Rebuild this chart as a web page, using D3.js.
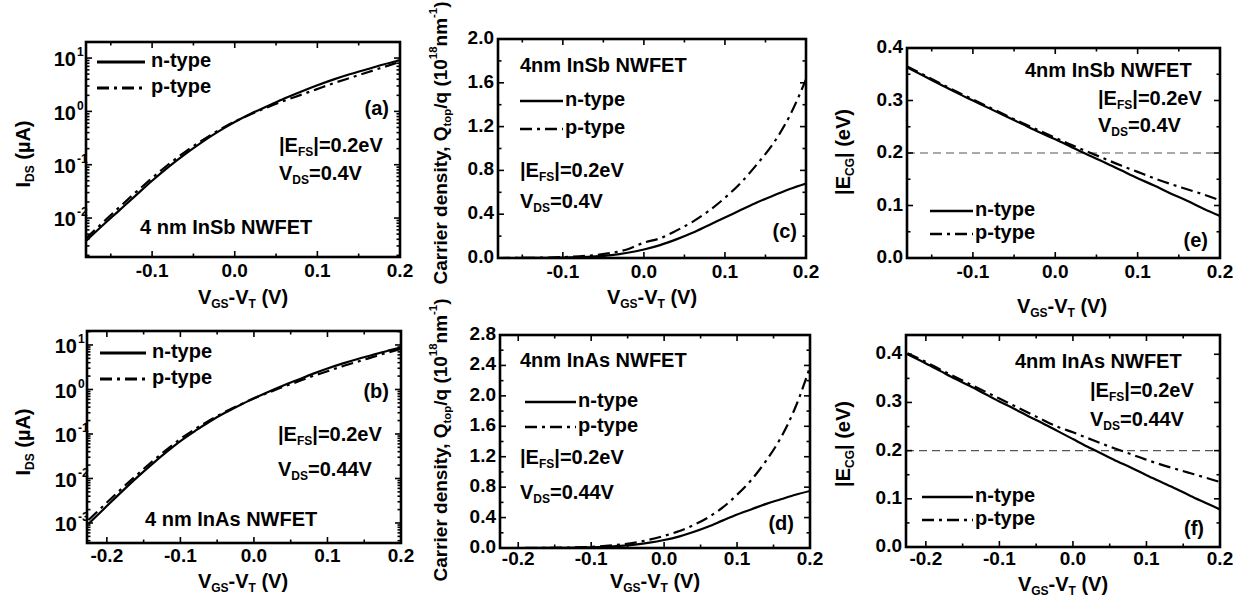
<!DOCTYPE html>
<html>
<head>
<meta charset="utf-8">
<script src="https://cdn.jsdelivr.net/npm/d3@7"></script>
<style>
  html, body { margin: 0; padding: 0; background: #fff; }
  svg { display: block; }
  text { font-family: "Liberation Sans", Arial, sans-serif; font-weight: bold; fill: #000; }
</style>
</head>
<body>
<svg id="fig" width="1242" height="605"></svg>
<script>
// ---- data: gate overdrive (V) and device outputs ----
// (a) 4 nm InSb NWFET, drain current (uA)
const vgsA = [-0.18,-0.16,-0.14,-0.12,-0.10,-0.08,-0.06,-0.04,-0.02,0.00,0.02,0.04,0.06,0.08,0.10,0.12,0.14,0.16,0.18,0.20];
const idsA_n = [0.00372,0.00724,0.0138,0.0263,0.0501,0.0912,0.158,0.263,0.417,0.631,0.912,1.26,1.74,2.34,3.09,3.98,5.01,6.17,7.59,9.12];
const idsA_p = [0.00417,0.00813,0.0158,0.0302,0.0562,0.102,0.174,0.282,0.437,0.646,0.891,1.20,1.58,2.04,2.63,3.39,4.27,5.37,6.76,8.51];

// (b) 4 nm InAs NWFET, drain current (uA)
const vgsB = [-0.225,-0.20,-0.18,-0.16,-0.14,-0.12,-0.10,-0.08,-0.06,-0.04,-0.02,0.00,0.02,0.04,0.06,0.08,0.10,0.12,0.14,0.16,0.18,0.20];
const idsB_n = [0.000955,0.00240,0.00501,0.0102,0.0200,0.0380,0.0692,0.117,0.191,0.295,0.437,0.631,0.891,1.23,1.66,2.24,2.95,3.80,4.79,5.89,7.24,8.71];
const idsB_p = [0.00117,0.00288,0.00589,0.0117,0.0229,0.0427,0.0776,0.129,0.204,0.309,0.447,0.631,0.851,1.15,1.51,2.00,2.57,3.31,4.17,5.25,6.61,8.13];

// (c) InSb carrier density (1e18 nm^-1)
const qC_n = [0.000,0.000,0.001,0.002,0.004,0.008,0.015,0.027,0.048,0.078,0.118,0.17,0.23,0.30,0.37,0.44,0.51,0.57,0.63,0.68];
const qC_p = [0.000,0.001,0.002,0.004,0.008,0.015,0.027,0.047,0.080,0.14,0.18,0.25,0.33,0.43,0.55,0.69,0.86,1.05,1.30,1.63];

// (d) InAs carrier density (1e18 nm^-1)
const qD_n = [0,0,0,0.001,0.002,0.004,0.008,0.015,0.027,0.045,0.07,0.105,0.15,0.21,0.28,0.36,0.44,0.51,0.58,0.64,0.70,0.75];
const qD_p = [0,0,0.001,0.002,0.004,0.008,0.015,0.027,0.045,0.07,0.11,0.16,0.22,0.30,0.40,0.53,0.70,0.90,1.15,1.45,1.85,2.38];

// (e) InSb |E_CG| (eV)
const eE_n = [0.363,0.347,0.331,0.315,0.300,0.285,0.270,0.255,0.240,0.226,0.211,0.196,0.182,0.167,0.152,0.138,0.123,0.109,0.094,0.080];
const eE_p = [0.365,0.349,0.333,0.317,0.302,0.287,0.272,0.257,0.243,0.229,0.215,0.202,0.189,0.176,0.164,0.152,0.141,0.131,0.121,0.110];

// (f) InAs |E_CG| (eV)
const eF_n = [0.400,0.381,0.365,0.349,0.334,0.318,0.302,0.287,0.271,0.256,0.240,0.224,0.208,0.193,0.178,0.164,0.149,0.135,0.121,0.106,0.092,0.078];
const eF_p = [0.402,0.384,0.368,0.353,0.338,0.323,0.308,0.293,0.278,0.263,0.249,0.238,0.226,0.214,0.203,0.192,0.181,0.171,0.162,0.153,0.144,0.135];

// reference level |E_FS| = 0.2 eV
const efsLevel = 0.2;

const xTicksA = [-0.1, 0.0, 0.1, 0.2];
const xTicksB = [-0.2, -0.1, 0.0, 0.1, 0.2];
const logTicksA = [0.01, 0.1, 1, 10];
const logTicksB = [0.001, 0.01, 0.1, 1, 10];
const qTicksC = [0.0, 0.4, 0.8, 1.2, 1.6, 2.0];
const qTicksD = [0.0, 0.4, 0.8, 1.2, 1.6, 2.0, 2.4, 2.8];
const eTicks = [0.0, 0.1, 0.2, 0.3, 0.4];

const svg = d3.select("#fig");
const DASHDOT = "12,5,3,5";
const TICK_FS = 19, TEXT_FS = 20;

// text made of normal / subscript / superscript runs
function rich(g, parts, x, y, size, anchor, rotate) {
  const t = g.append("text")
    .attr("x", x).attr("y", y)
    .attr("font-size", size)
    .attr("text-anchor", anchor || "start")
    .attr("dominant-baseline", "middle");
  if (rotate) t.attr("transform", `rotate(${rotate},${x},${y})`);
  let shift = 0;
  parts.forEach(([s, mode]) => {
    const target = mode === "sub" ? size * 0.32 : mode === "sup" ? -size * 0.42 : 0;
    t.append("tspan")
      .attr("dy", target - shift)
      .attr("font-size", mode ? size * 0.6 : size)
      .text(s);
    shift = target;
  });
  return t;
}

const fmt1 = v => d3.format(".1f")(v).replace("\u2212", "-");

function panel(cfg) {
  const g = svg.append("g");
  const x = d3.scaleLinear().domain(cfg.xDomain).range([cfg.left, cfg.right]);
  const y = (cfg.log ? d3.scaleLog() : d3.scaleLinear()).domain(cfg.yDomain).range([cfg.bottom, cfg.top]);

  // clip for curves
  const cid = "clip" + cfg.id;
  svg.append("clipPath").attr("id", cid).append("rect")
    .attr("x", cfg.left).attr("y", cfg.top)
    .attr("width", cfg.right - cfg.left).attr("height", cfg.bottom - cfg.top);

  // reference dashed line
  if (cfg.refLine !== undefined) {
    g.append("line")
      .attr("x1", cfg.left).attr("x2", cfg.right)
      .attr("y1", y(cfg.refLine)).attr("y2", y(cfg.refLine))
      .attr("stroke", "#555").attr("stroke-width", 1.1)
      .attr("stroke-dasharray", "8,5");
  }

  // curves
  const line = d3.line().x(d => x(d[0])).y(d => y(d[1])).curve(d3.curveMonotoneX);
  const curves = g.append("g").attr("clip-path", `url(#${cid})`);
  cfg.series.forEach(s => {
    const pts = cfg.xs.map((v, i) => [v, s.values[i]]);
    curves.append("path").attr("d", line(pts))
      .attr("fill", "none").attr("stroke", "#000")
      .attr("stroke-width", 2.2)
      .attr("stroke-dasharray", s.dash ? DASHDOT : null);
  });

  // ticks (inward, all four sides)
  const tk = g.append("g").attr("stroke", "#000").attr("stroke-width", 1.6);
  const xStep = 0.05;
  const xStart = Math.ceil(cfg.xDomain[0] / xStep - 1e-6) * xStep;
  for (let v = xStart; v <= cfg.xDomain[1] + 1e-9; v += xStep) {
    const major = Math.abs(Math.round(v * 10) - v * 10) < 1e-6;
    const len = major ? 6 : 3.5;
    const px = x(v);
    tk.append("line").attr("x1", px).attr("x2", px).attr("y1", cfg.bottom).attr("y2", cfg.bottom - len);
    tk.append("line").attr("x1", px).attr("x2", px).attr("y1", cfg.top).attr("y2", cfg.top + len);
  }
  const yMarks = [];
  if (cfg.log) {
    const lo = Math.floor(Math.log10(cfg.yDomain[0])), hi = Math.ceil(Math.log10(cfg.yDomain[1]));
    for (let e = lo; e <= hi; e++) for (let m = 1; m <= 9; m++) {
      const v = m * Math.pow(10, e);
      if (v >= cfg.yDomain[0] && v <= cfg.yDomain[1]) yMarks.push([v, m === 1]);
    }
  } else {
    const st = cfg.yMinorStep;
    for (let v = 0; v <= cfg.yDomain[1] + 1e-9; v += st) {
      const major = cfg.yTicks.some(t => Math.abs(t - v) < 1e-6);
      yMarks.push([v, major]);
    }
  }
  yMarks.forEach(([v, major]) => {
    const len = major ? 6 : 3.5;
    const py = y(v);
    tk.append("line").attr("x1", cfg.left).attr("x2", cfg.left + len).attr("y1", py).attr("y2", py);
    tk.append("line").attr("x1", cfg.right).attr("x2", cfg.right - len).attr("y1", py).attr("y2", py);
  });

  // frame
  g.append("rect")
    .attr("x", cfg.left).attr("y", cfg.top)
    .attr("width", cfg.right - cfg.left).attr("height", cfg.bottom - cfg.top)
    .attr("fill", "none").attr("stroke", "#000").attr("stroke-width", 2.6);

  // x tick labels
  cfg.xTicks.forEach(v => {
    g.append("text").attr("x", x(v)).attr("y", cfg.bottom + (cfg.xLabelGap || 15))
      .attr("font-size", TICK_FS).attr("text-anchor", "middle")
      .attr("dominant-baseline", "middle").text(fmt1(v));
  });
  // y tick labels
  cfg.yTicks.forEach(v => {
    if (cfg.log) {
      const e = Math.round(Math.log10(v));
      g.append("text").attr("x", cfg.left - 10).attr("y", y(v) + 3)
        .attr("font-size", TICK_FS + 1).attr("text-anchor", "end")
        .attr("dominant-baseline", "middle").text("10");
      g.append("text").attr("x", cfg.left - 9).attr("y", y(v) - 5)
        .attr("font-size", 12).attr("dominant-baseline", "middle").text(String(e));
    } else {
      g.append("text").attr("x", cfg.left - 4).attr("y", y(v))
        .attr("font-size", TICK_FS).attr("text-anchor", "end")
        .attr("dominant-baseline", "middle").text(fmt1(v));
    }
  });

  // axis titles
  rich(g, [["V", null], ["GS", "sub"], ["-V", null], ["T", "sub"], [" (V)", null]],
       cfg.xTitle[0], cfg.xTitle[1], TEXT_FS, "middle");
  rich(g, cfg.yTitleParts, cfg.yTitle[0], cfg.yTitle[1], cfg.yTitleSize || TEXT_FS, "middle", -90);

  // legend
  const lg = cfg.legend;
  [["n-type", false, lg.y1], ["p-type", true, lg.y2]].forEach(([lab, dash, ly]) => {
    g.append("line").attr("x1", lg.x1).attr("x2", lg.x2).attr("y1", ly).attr("y2", ly)
      .attr("stroke", "#000").attr("stroke-width", lg.w || 2.6)
      .attr("stroke-dasharray", dash ? DASHDOT : null);
    g.append("text").attr("x", lg.tx).attr("y", ly).attr("font-size", TEXT_FS)
      .attr("dominant-baseline", "middle").text(lab);
  });

  // annotations
  cfg.notes.forEach(n => rich(g, n.parts, n.x, n.y, TEXT_FS, n.anchor || "start"));
  return {x, y};
}

const titleIds = [["I", null], ["DS", "sub"], [" (\u00b5A)", null]];
const titleQ = [["Carrier density, Q", null], ["top", "sub"], ["/q (10", null], ["18", "sup"], ["nm", null], ["-1", "sup"], [")", null]];
const titleE = [["|E", null], ["CG", "sub"], ["| (eV)", null]];
const efsParts = [["|E", null], ["FS", "sub"], ["|=0.2eV", null]];
const vds04 = [["V", null], ["DS", "sub"], ["=0.4V", null]];
const vds044 = [["V", null], ["DS", "sub"], ["=0.44V", null]];

panel({
  id: "a", left: 86, right: 400, top: 42, bottom: 257,
  xDomain: [-0.18, 0.2], yDomain: [0.00186, 20], log: true,
  xs: vgsA, series: [{values: idsA_n}, {values: idsA_p, dash: true}],
  xTicks: xTicksA, yTicks: logTicksA,
  xTitle: [243, 299], yTitle: [25, 154], yTitleParts: titleIds,
  legend: {x1: 97, x2: 145, tx: 151, y1: 62, y2: 88, w: 3},
  notes: [
    {parts: [["(a)", null]], x: 389, y: 110, anchor: "end"},
    {parts: efsParts, x: 279, y: 147},
    {parts: vds04, x: 279, y: 175},
    {parts: [["4 nm InSb NWFET", null]], x: 140, y: 229}
  ]
});

panel({
  id: "b", left: 87, right: 401, top: 331, bottom: 543, xLabelGap: 14,
  xDomain: [-0.227, 0.2], yDomain: [0.000355, 20.6], log: true,
  xs: vgsB, series: [{values: idsB_n}, {values: idsB_p, dash: true}],
  xTicks: xTicksB, yTicks: logTicksB,
  xTitle: [243, 583], yTitle: [25, 442], yTitleParts: titleIds,
  legend: {x1: 100, x2: 146, tx: 152, y1: 353, y2: 379, w: 3},
  notes: [
    {parts: [["(b)", null]], x: 389, y: 393, anchor: "end"},
    {parts: efsParts, x: 278, y: 436},
    {parts: vds044, x: 278, y: 471},
    {parts: [["4 nm InAs NWFET", null]], x: 145, y: 521}
  ]
});

panel({
  id: "c", left: 498, right: 806, top: 39, bottom: 258,
  xDomain: [-0.18, 0.2], yDomain: [0, 2.0], yMinorStep: 0.2,
  xs: vgsA, series: [{values: qC_n}, {values: qC_p, dash: true}],
  xTicks: xTicksA, yTicks: qTicksC,
  xTitle: [652, 299], yTitle: [442, 143], yTitleParts: titleQ, yTitleSize: 19,
  legend: {x1: 520, x2: 563, tx: 565, y1: 101, y2: 129, w: 2.6},
  notes: [
    {parts: [["(c)", null]], x: 797, y: 233, anchor: "end"},
    {parts: [["4nm InSb NWFET", null]], x: 520, y: 67},
    {parts: efsParts, x: 520, y: 172},
    {parts: vds04, x: 520, y: 203}
  ]
});

panel({
  id: "d", left: 500, right: 810, top: 335, bottom: 548, xLabelGap: 12,
  xDomain: [-0.225, 0.2], yDomain: [0, 2.8], yMinorStep: 0.2,
  xs: vgsB, series: [{values: qD_n}, {values: qD_p, dash: true}],
  xTicks: xTicksB, yTicks: qTicksD,
  xTitle: [655, 583], yTitle: [442, 440], yTitleParts: titleQ, yTitleSize: 19,
  legend: {x1: 525, x2: 576, tx: 578, y1: 402, y2: 427, w: 2.6},
  notes: [
    {parts: [["(d)", null]], x: 794, y: 525, anchor: "end"},
    {parts: [["4nm InAs NWFET", null]], x: 520, y: 362},
    {parts: efsParts, x: 520, y: 459},
    {parts: vds044, x: 520, y: 494}
  ]
});

panel({
  id: "e", left: 907, right: 1220, top: 48, bottom: 258,
  xDomain: [-0.18, 0.2], yDomain: [0, 0.4], yMinorStep: 0.05,
  xs: vgsA, series: [{values: eE_n}, {values: eE_p, dash: true}],
  xTicks: xTicksA, yTicks: eTicks, refLine: efsLevel,
  xTitle: [1062, 308], yTitle: [845, 152], yTitleParts: titleE,
  legend: {x1: 930, x2: 973, tx: 975, y1: 211, y2: 234, w: 2.6},
  notes: [
    {parts: [["(e)", null]], x: 1208, y: 242, anchor: "end"},
    {parts: [["4nm InSb NWFET", null]], x: 1025, y: 72},
    {parts: efsParts, x: 1098, y: 100},
    {parts: vds04, x: 1098, y: 127}
  ]
});

panel({
  id: "f", left: 906, right: 1220, top: 335, bottom: 547, xLabelGap: 13,
  xDomain: [-0.227, 0.2], yDomain: [0, 0.44], yMinorStep: 0.05,
  xs: vgsB, series: [{values: eF_n}, {values: eF_p, dash: true}],
  xTicks: xTicksB, yTicks: eTicks, refLine: efsLevel,
  xTitle: [1063, 586], yTitle: [845, 444], yTitleParts: titleE,
  legend: {x1: 922, x2: 973, tx: 975, y1: 497, y2: 520, w: 2.6},
  notes: [
    {parts: [["(f)", null]], x: 1204, y: 530, anchor: "end"},
    {parts: [["4nm InAs NWFET", null]], x: 1015, y: 363},
    {parts: efsParts, x: 1090, y: 392},
    {parts: vds044, x: 1090, y: 421}
  ]
});
</script>
</body>
</html>
